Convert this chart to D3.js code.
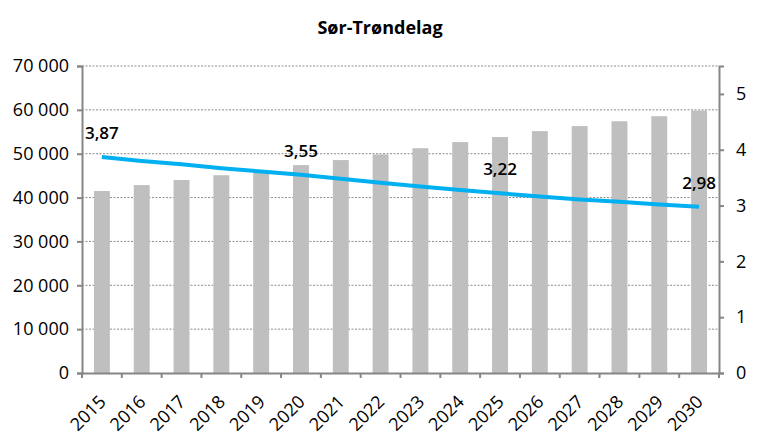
<!DOCTYPE html>
<html>
<head>
<meta charset="utf-8">
<script src="https://cdn.jsdelivr.net/npm/d3@7"></script>
<style>
  body { margin: 0; background: #fff; }
  text { font-family: "Open Sans", "Noto Sans", sans-serif; }
</style>
</head>
<body>
<div id="chart"></div>
<script>
// Data
var years = ["2015", "2016", "2017", "2018", "2019", "2020", "2021", "2022",
             "2023", "2024", "2025", "2026", "2027", "2028", "2029", "2030"];
var barValues = [41500, 42850, 44000, 45100, 46000, 47400, 48550, 49850,
                 51250, 52650, 53800, 55150, 56300, 57400, 58550, 59850];
var lineValues = [3.87, 3.80, 3.74, 3.67, 3.61, 3.55, 3.48, 3.41,
                  3.34, 3.28, 3.22, 3.16, 3.11, 3.07, 3.02, 2.98];
var labelYears = ["2015", "2020", "2025", "2030"];
var leftTicks = [0, 10000, 20000, 30000, 40000, 50000, 60000, 70000];
var rightTicks = [0, 1, 2, 3, 4, 5];

var svgWidth = 759;
var svgHeight = 441;
var margin = { top: 66, right: 40, bottom: 68, left: 82 };
var width = 719 - margin.left;
var height = 373 - margin.top;

var svg = d3.select("#chart")
  .append("svg")
  .attr("width", svgWidth)
  .attr("height", svgHeight);

// title
svg.append("text")
  .attr("x", 380)
  .attr("y", 34)
  .attr("text-anchor", "middle")
  .style("font-size", "18px")
  .style("font-weight", "bold")
  .text("Sør-Trøndelag");

var chartGroup = svg.append("g")
  .attr("transform", `translate(${margin.left}, ${margin.top})`);

var xScale = d3.scaleBand()
  .domain(years)
  .range([0, width])
  .paddingInner(0.6)
  .paddingOuter(0.3);

var yLeft = d3.scaleLinear().domain([0, 70000]).range([height, 0]);
var yRight = d3.scaleLinear().domain([0, 5.5]).range([height, 0]);

var fmt = function(d) { return d3.format(",")(d).replace(/,/g, " "); };

// gridlines
chartGroup.selectAll(".grid")
  .data(leftTicks.slice(1))
  .enter()
  .append("line")
  .attr("x1", 0)
  .attr("x2", width)
  .attr("y1", d => yLeft(d))
  .attr("y2", d => yLeft(d))
  .attr("stroke", "#8c8c8c")
  .attr("stroke-width", 1)
  .attr("stroke-dasharray", "2,1.5");

// bars
chartGroup.selectAll("rect")
  .data(barValues)
  .enter()
  .append("rect")
  .attr("x", (d, i) => xScale(years[i]))
  .attr("y", d => yLeft(d))
  .attr("width", xScale.bandwidth())
  .attr("height", d => height - yLeft(d))
  .attr("fill", "#bfbfbf");

// line
var line = d3.line()
  .x((d, i) => xScale(years[i]) + xScale.bandwidth() / 2)
  .y(d => yRight(d));

chartGroup.append("path")
  .datum(lineValues)
  .attr("d", line)
  .attr("fill", "none")
  .attr("stroke", "#00b0f0")
  .attr("stroke-width", 4);

// line labels
chartGroup.selectAll(".lbl")
  .data(labelYears)
  .enter()
  .append("text")
  .attr("x", d => xScale(d) + xScale.bandwidth() / 2)
  .attr("y", d => yRight(lineValues[years.indexOf(d)]) - 18)
  .attr("text-anchor", "middle")
  .style("font-size", "17px")
  .style("font-weight", "600")
  .text(d => d3.format(".2f")(lineValues[years.indexOf(d)]).replace(".", ","));

// axes
var axisColor = "#868686";

var leftAxis = chartGroup.append("g")
  .call(d3.axisLeft(yLeft).tickValues(leftTicks).tickFormat(fmt).tickSize(5).tickPadding(8));

var rightAxis = chartGroup.append("g")
  .attr("transform", `translate(${width}, 0)`)
  .call(d3.axisRight(yRight).tickValues(rightTicks).tickFormat(d3.format("d")).tickSize(5).tickPadding(12));

var bottomAxis = chartGroup.append("g")
  .attr("transform", `translate(0, ${height})`)
  .call(d3.axisBottom(xScale).tickSize(0).tickPadding(0));

// tick marks at category boundaries
chartGroup.selectAll(".xtick")
  .data(d3.range(years.length + 1))
  .enter()
  .append("line")
  .attr("x1", d => d * (width / years.length))
  .attr("x2", d => d * (width / years.length))
  .attr("y1", height)
  .attr("y2", height + 5)
  .attr("stroke", axisColor)
  .attr("stroke-width", 2);

[leftAxis, rightAxis, bottomAxis].forEach(function(ax) {
  ax.select(".domain").attr("stroke", axisColor).attr("stroke-width", 2);
  ax.selectAll(".tick line").attr("stroke", axisColor).attr("stroke-width", 2);
  ax.selectAll("text")
    .style("font-size", "18px")
    .style("font-family", "'Open Sans', 'Noto Sans', sans-serif")
    .attr("fill", "#000");
});

bottomAxis.selectAll("text")
  .attr("text-anchor", "end")
  .attr("dy", "0")
  .attr("transform", "translate(5, 30) rotate(-45)");
</script>
</body>
</html>
